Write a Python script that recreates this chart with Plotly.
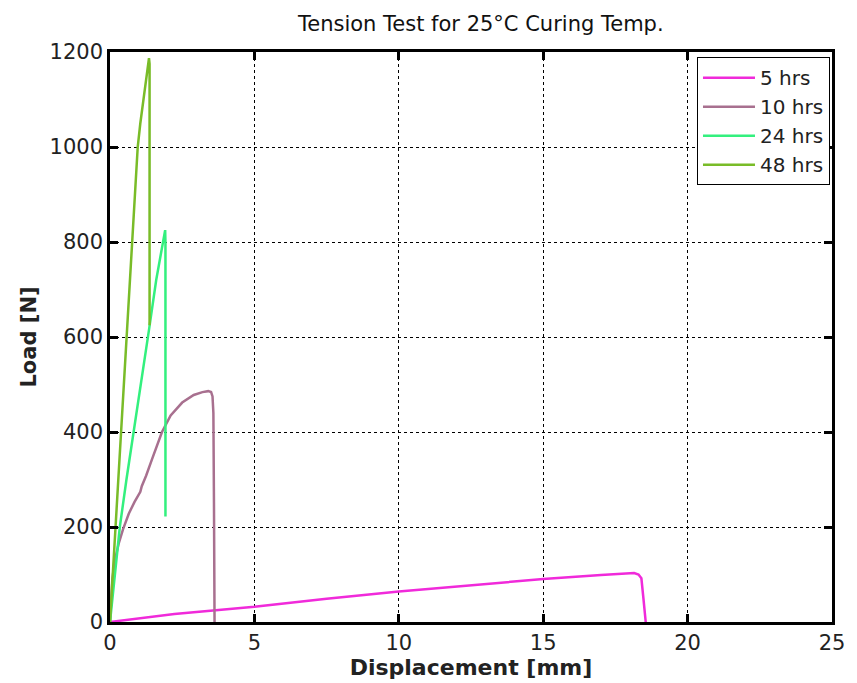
import plotly.graph_objects as go

# Load–displacement records for each curing time (x in mm, y in N)
x_5h = [0, 1, 2.23, 5, 7.5, 10, 12.5, 15, 17, 17.9, 18.15, 18.3, 18.4, 18.47, 18.55]
y_5h = [0, 8, 17, 32, 49, 64, 78, 90.5, 99, 103, 103, 100, 92, 50, 0]

x_10h = [0, 0.03, 0.08, 0.17, 0.3, 0.45, 0.65, 0.85, 1.0, 1.05, 1.1, 1.25, 1.45, 1.8, 2.1, 2.5,
         2.9, 3.2, 3.4, 3.5, 3.55, 3.58, 3.6, 3.62]
y_10h = [0, 45, 90, 130, 165, 195, 228, 253, 268, 274, 286, 308, 342, 400, 435, 462,
         478, 484, 486, 484, 475, 440, 250, 0]

x_24h = [0, 0.2, 0.34, 0.57, 0.9, 1.35, 1.6, 1.91, 1.92, 1.92]
y_24h = [0, 120, 200, 300, 430, 615, 720, 825, 800, 222]

x_48h = [0, 0.3, 0.59, 0.77, 0.96, 1.05, 1.14, 1.22, 1.29, 1.35, 1.37, 1.37]
y_48h = [0, 310, 600, 800, 1000, 1050, 1090, 1130, 1165, 1187, 1175, 625]

series_names = ["5 hrs", "10 hrs", "24 hrs", "48 hrs"]
series_colors = ["#F02ADA", "#A8708F", "#33F07E", "#79BC28"]
series_x = [x_5h, x_10h, x_24h, x_48h]
series_y = [y_5h, y_10h, y_24h, y_48h]

x_ticks = [0, 5, 10, 15, 20, 25]
y_ticks = [0, 200, 400, 600, 800, 1000, 1200]

FONT = "DejaVu Sans, Arial"

fig = go.Figure()
for name, color, xs, ys in zip(series_names, series_colors, series_x, series_y):
    fig.add_trace(go.Scatter(x=xs, y=ys, mode="lines", name=name,
                             line=dict(color=color, width=2.5)))

axis_common = dict(
    showline=True, linecolor="black", linewidth=2.5, mirror="ticks",
    ticks="inside", ticklen=8, tickwidth=2.5, tickcolor="black",
    showgrid=True, gridcolor="black", griddash="dot", gridwidth=1,
    zeroline=False,
    tickfont=dict(family=FONT, size=21, color="#222"),
)

fig.update_layout(
    width=857, height=683,
    margin=dict(l=110, r=17, t=52, b=61),
    paper_bgcolor="white", plot_bgcolor="white",
    title=dict(text="Tension Test for 25°C Curing Temp.",
               x=0.561, xanchor="center", y=0.966, yanchor="middle",
               font=dict(family=FONT, size=21, color="#111")),
    xaxis=dict(range=[0, 25], tickvals=x_ticks,
               title=dict(text="<b>Displacement [mm]</b>", standoff=0,
                          font=dict(family=FONT, size=22, color="#222")),
               **axis_common),
    yaxis=dict(range=[0, 1200], tickvals=y_ticks,
               title=dict(text="<b>Load [N]</b>", standoff=8,
                          font=dict(family=FONT, size=21, color="#222")),
               **axis_common),
    legend=dict(x=0.813, y=0.991, xanchor="left", yanchor="top",
                bgcolor="white", bordercolor="black", borderwidth=1,
                font=dict(family=FONT, size=20, color="#222"),
                itemwidth=52, tracegroupgap=0),
    showlegend=True,
)

fig.write_html("out.html")
